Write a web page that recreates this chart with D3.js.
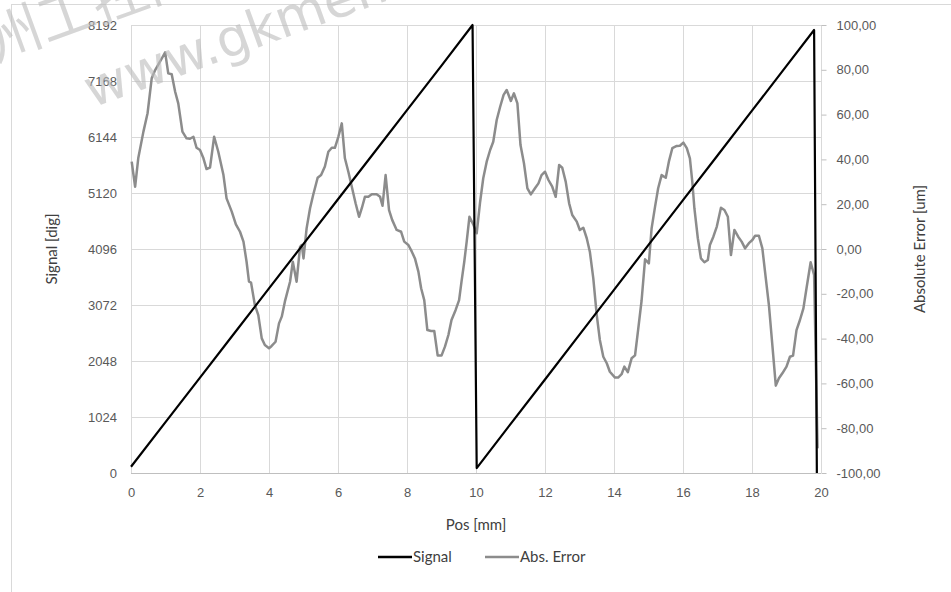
<!DOCTYPE html>
<html>
<head>
<meta charset="utf-8">
<script src="https://cdn.jsdelivr.net/npm/d3@7"></script>
<style>
  html, body { margin: 0; padding: 0; background: #fff; }
  svg { display: block; font-family: Lato, "Open Sans", sans-serif; }
</style>
</head>
<body>
<div id="chart"></div>
<script>
// signal (left axis) - sawtooth ramp
const sigPos = [0, 1, 2, 3, 4, 5, 6, 7, 8, 9, 9.9, 10.02, 11, 12, 13, 14, 15, 16, 17, 18, 19, 19.8, 19.88];
const sigVal = [115, 930, 1745, 2560, 3375, 4190, 5005, 5820, 6635, 7450, 8192, 90, 895, 1710, 2530, 3350, 4170, 4990, 5805, 6625, 7445, 8100, 0];

// absolute error (right axis)
const errPos = [0.02, 0.12, 0.21, 0.36, 0.48, 0.6, 0.7, 0.84, 0.99, 1.08, 1.18, 1.28, 1.37, 1.49, 1.61, 1.71, 1.81, 1.9, 2.0, 2.1, 2.19, 2.29, 2.41, 2.53, 2.68, 2.77, 2.92, 3.04, 3.16, 3.26, 3.35, 3.42, 3.48, 3.59, 3.69, 3.79, 3.88, 4.0, 4.07, 4.19, 4.29, 4.37, 4.46, 4.61, 4.69, 4.8, 4.9, 4.95, 5.0, 5.09, 5.19, 5.28, 5.41, 5.51, 5.62, 5.72, 5.82, 5.91, 6.01, 6.11, 6.2, 6.3, 6.41, 6.51, 6.61, 6.69, 6.78, 6.88, 6.98, 7.12, 7.22, 7.29, 7.38, 7.48, 7.57, 7.7, 7.83, 7.92, 8.04, 8.14, 8.23, 8.33, 8.41, 8.5, 8.59, 8.7, 8.79, 8.89, 9.0, 9.1, 9.2, 9.29, 9.41, 9.51, 9.58, 9.66, 9.73, 9.81, 9.92, 10.02, 10.12, 10.21, 10.31, 10.41, 10.5, 10.6, 10.7, 10.8, 10.89, 11.01, 11.1, 11.2, 11.29, 11.39, 11.49, 11.59, 11.71, 11.81, 11.9, 12.0, 12.1, 12.21, 12.31, 12.41, 12.5, 12.6, 12.7, 12.79, 12.92, 13.01, 13.11, 13.21, 13.3, 13.4, 13.5, 13.59, 13.69, 13.79, 13.88, 14.03, 14.12, 14.22, 14.3, 14.4, 14.51, 14.61, 14.7, 14.8, 14.9, 15.01, 15.09, 15.19, 15.28, 15.38, 15.5, 15.59, 15.69, 15.82, 15.91, 16.01, 16.11, 16.2, 16.27, 16.33, 16.43, 16.52, 16.62, 16.72, 16.78, 16.88, 16.98, 17.1, 17.2, 17.3, 17.39, 17.49, 17.6, 17.7, 17.8, 17.91, 18.01, 18.09, 18.2, 18.3, 18.4, 18.49, 18.59, 18.69, 18.78, 18.88, 19.0, 19.1, 19.19, 19.29, 19.39, 19.49, 19.58, 19.7, 19.8, 19.9];
const errVal = [39.0, 27.8, 40.5, 52.4, 60.6, 76.2, 79.9, 83.6, 87.8, 78.4, 78.0, 70.2, 65.0, 52.4, 49.4, 49.2, 50.1, 45.2, 44.2, 40.5, 35.7, 36.3, 50.1, 43.4, 33.0, 22.6, 16.7, 11.0, 7.7, 3.3, -5.7, -14.6, -15.0, -25.0, -29.5, -39.9, -42.9, -44.3, -43.4, -41.4, -33.2, -30.2, -23.5, -14.6, -5.7, -14.6, 1.0, 1.8, -4.2, 9.2, 18.2, 24.1, 31.8, 33.0, 36.8, 43.4, 45.2, 45.2, 50.1, 56.1, 40.5, 34.5, 27.1, 20.4, 14.4, 18.2, 23.3, 23.3, 24.4, 24.4, 23.3, 19.3, 33.0, 17.4, 13.0, 8.5, 7.7, 3.3, 1.8, -1.2, -4.2, -10.1, -17.5, -22.8, -36.2, -36.6, -36.6, -47.6, -47.6, -43.6, -38.4, -31.7, -27.2, -22.8, -14.6, -5.7, 3.3, 14.4, 11.0, 7.0, 21.1, 31.6, 39.0, 44.2, 47.9, 57.6, 63.5, 68.8, 71.0, 66.1, 69.5, 65.0, 46.4, 38.3, 27.1, 24.4, 27.1, 29.3, 33.0, 34.5, 30.8, 27.8, 23.3, 37.5, 36.3, 30.1, 20.4, 15.2, 12.2, 8.5, 9.5, 4.8, -1.2, -13.1, -29.5, -40.6, -48.1, -51.0, -54.8, -57.4, -57.4, -55.9, -52.5, -55.0, -48.8, -47.5, -36.0, -23.0, -4.6, -6.4, 9.2, 18.9, 27.1, 33.0, 31.8, 39.0, 45.0, 46.0, 46.1, 47.5, 45.0, 40.5, 30.0, 18.2, 4.8, -4.2, -5.9, -4.9, 1.8, 5.5, 10.0, 18.4, 17.4, 14.4, -2.7, 8.5, 5.5, 3.3, 0.3, 2.6, 4.0, 5.9, 5.9, 0.3, -13.1, -25.0, -42.9, -61.0, -57.7, -55.5, -52.5, -48.1, -47.6, -36.2, -31.7, -26.5, -17.5, -5.9, -11.6, -89.0];

const xTicks = [0, 2, 4, 6, 8, 10, 12, 14, 16, 18, 20];
const leftTicks = [0, 1024, 2048, 3072, 4096, 5120, 6144, 7168, 8192];
const rightTicks = [-100, -80, -60, -40, -20, 0, 20, 40, 60, 80, 100];
const seriesNames = ["Signal", "Abs. Error"];

const W = 951, H = 592;
const plot = { left: 131, right: 821, top: 25, bottom: 473 };

const svg = d3.select("#chart").append("svg")
  .attr("width", W).attr("height", H);

// chart frame (runs past the right/bottom edge of the picture)
svg.append("rect")
  .attr("x", 11.5).attr("y", 4.5)
  .attr("width", 1200).attr("height", 1200)
  .attr("fill", "#fff").attr("stroke", "#d9d9d9");

const x = d3.scaleLinear().domain([0, 20]).range([plot.left, plot.right]);
const yL = d3.scaleLinear().domain([0, 8192]).range([plot.bottom, plot.top]);
const yR = d3.scaleLinear().domain([-100, 100]).range([plot.bottom, plot.top]);

const comma = d3.formatLocale({ decimal: ",", thousands: ".", grouping: [3], currency: ["", ""], minus: "-" });
const fmtR = comma.format(".2f");

// grid
const grid = svg.append("g").attr("stroke", "#d9d9d9").attr("stroke-width", 1);
grid.selectAll("line.h").data(leftTicks).enter().append("line")
  .attr("x1", plot.left).attr("x2", plot.right)
  .attr("y1", d => Math.round(yL(d)) + 0.5).attr("y2", d => Math.round(yL(d)) + 0.5);
grid.selectAll("line.v").data(xTicks).enter().append("line")
  .attr("y1", plot.top).attr("y2", plot.bottom)
  .attr("x1", d => Math.round(x(d)) + 0.5).attr("x2", d => Math.round(x(d)) + 0.5);

// bottom axis line
svg.append("line")
  .attr("x1", plot.left).attr("x2", plot.right)
  .attr("y1", plot.bottom + 0.5).attr("y2", plot.bottom + 0.5)
  .attr("stroke", "#bfbfbf");

// axes
const tickColor = "#595959";
const axB = svg.append("g")
  .attr("transform", `translate(0,${plot.bottom + 0.5})`)
  .call(d3.axisBottom(x).tickValues(xTicks).tickSize(0).tickPadding(14).tickFormat(d3.format("d")));
const axL = svg.append("g")
  .attr("transform", `translate(${plot.left - 14},0)`)
  .call(d3.axisLeft(yL).tickValues(leftTicks).tickSize(0).tickPadding(0).tickFormat(d3.format("d")));
const axR = svg.append("g")
  .attr("transform", `translate(${plot.right + 0.5},0)`)
  .call(d3.axisRight(yR).tickValues(rightTicks).tickSize(5).tickPadding(10).tickFormat(fmtR));
[axB, axL, axR].forEach(a => {
  a.select(".domain").remove();
  a.selectAll("text").attr("fill", tickColor).attr("font-size", 13);
});
axR.selectAll(".tick line").attr("stroke", "#bfbfbf");

// axis titles
const titleColor = "#404040";
svg.append("text")
  .attr("x", (plot.left + plot.right) / 2).attr("y", 530)
  .attr("text-anchor", "middle").attr("font-size", 15).attr("fill", titleColor)
  .text("Pos [mm]");
svg.append("text")
  .attr("transform", `translate(57,${(plot.top + plot.bottom) / 2}) rotate(-90)`)
  .attr("text-anchor", "middle").attr("font-size", 15).attr("fill", titleColor)
  .text("Signal [dig]");
svg.append("text")
  .attr("transform", `translate(925,${(plot.top + plot.bottom) / 2}) rotate(-90)`)
  .attr("text-anchor", "middle").attr("font-size", 15).attr("fill", titleColor)
  .text("Absolute Error [um]");

// series
const sigData = sigPos.map((p, i) => [p, sigVal[i]]);
const errData = errPos.map((p, i) => [p, errVal[i]]);
const colors = ["#000000", "#8c8c8c"];

svg.append("path")
  .datum(errData)
  .attr("fill", "none").attr("stroke", colors[1]).attr("stroke-width", 2.5)
  .attr("stroke-linejoin", "round")
  .attr("d", d3.line().x(d => x(d[0])).y(d => yR(d[1])));

svg.append("path")
  .datum(sigData)
  .attr("fill", "none").attr("stroke", colors[0]).attr("stroke-width", 2.2)
  .attr("stroke-linejoin", "round")
  .attr("d", d3.line().x(d => x(d[0])).y(d => yL(d[1])));

// legend
const legendX = [378, 485];
const lg = svg.append("g").selectAll("g").data(seriesNames).enter().append("g")
  .attr("transform", (d, i) => `translate(${legendX[i]},557)`);
lg.append("line").attr("x1", 0).attr("x2", 34)
  .attr("stroke", (d, i) => colors[i]).attr("stroke-width", 2.5);
lg.append("text").attr("x", 35).attr("dy", "0.35em")
  .attr("font-size", 15).attr("fill", titleColor)
  .text(d => d);

// watermark (cut by the top edge, as in the source picture)
const wm = svg.append("g").attr("fill", "#bcbcbc").attr("opacity", 0.6)
  .attr("font-family", "'DejaVu Sans', sans-serif");
wm.append("text")
  .attr("transform", "translate(92,108) rotate(-20)")
  .attr("font-size", 52)
  .text("www.gkmemo.com");
wm.append("text")
  .attr("transform", "translate(-6,62) rotate(-20)")
  .attr("font-family", "'Noto Sans CJK SC', sans-serif")
  .attr("font-size", 56)
  .text("州工控网");
</script>
</body>
</html>
